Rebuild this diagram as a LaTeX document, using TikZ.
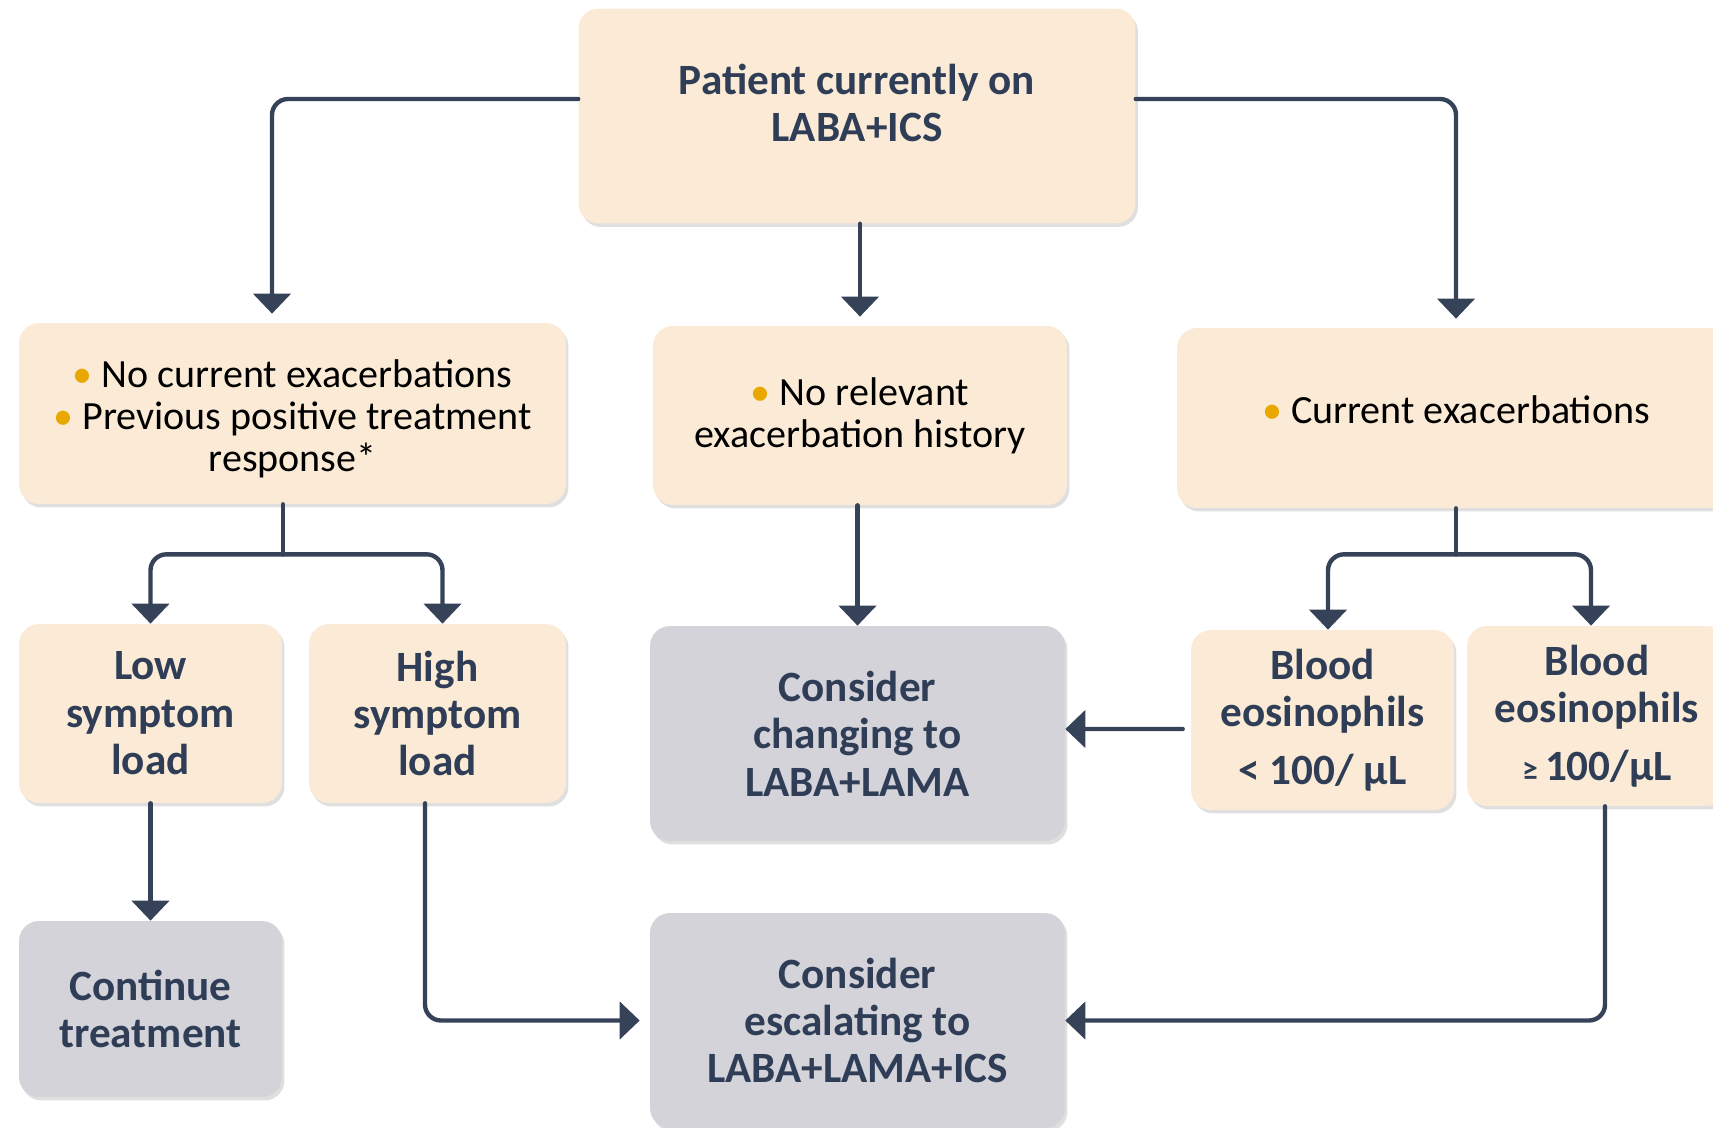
\documentclass[tikz,border=0pt]{standalone}
\usepackage{fontspec}
\setmainfont{Carlito}
\usetikzlibrary{arrows.meta,shadows}
\definecolor{cream}{HTML}{FBEBD6}
\definecolor{greyfill}{HTML}{D3D3D9}
\definecolor{navy}{HTML}{2F3E56}
\definecolor{linecol}{HTML}{364257}
\definecolor{bulletcol}{HTML}{E9A800}
\newcommand{\bul}{{\color{bulletcol}\textbullet}\ }

\begin{document}
\begin{tikzpicture}[x=0.02cm,y=-0.02cm,line cap=round,line join=round,
    card/.style={rounded corners=0.4cm,align=center,inner sep=0pt,
        drop shadow={shadow xshift=0.05cm,shadow yshift=-0.07cm,opacity=0.25}},
    cream card/.style={card,fill=cream},
    grey card/.style={card,fill=greyfill},
    bold/.style={align=center,text=navy,font=\fontsize{24.6}{27}\selectfont\bfseries},
    plain/.style={align=center,text=black,font=\fontsize{22.8}{24}\selectfont},
    link/.style={draw=linecol,line width=2.5pt,rounded corners=0.32cm},
    conn/.style={link,-{Triangle[width=0.74cm,length=0.4cm]}}]
\useasboundingbox (0,0) rectangle (1713,1128);
\clip (0,0) rectangle (1713,1128);

\node[cream card,minimum width=11.14cm,minimum height=4.3cm] (top) at (857,116) {};
\node[bold] (toptxt) at (857,103) {Patient currently on\\LABA+ICS};

\node[cream card,minimum width=10.94cm,minimum height=3.62cm] (exh) at (292.5,413.5) {};
\node[plain] (exhtxt) at (292.5,419)
    {\bul No current exacerbations\\\bul Previous positive treatment\\response*};
\node[cream card,plain,minimum width=8.28cm,minimum height=3.58cm] (hist) at (860,415.5)
    {\bul No relevant\\exacerbation history};
\node[cream card,minimum width=11.16cm,minimum height=3.6cm] (cur) at (1456,418) {};
\node[plain] (curtxt) at (1456,410) {\bul Current exacerbations};

\node[cream card,bold,minimum width=5.26cm,minimum height=3.58cm] (low) at (150.5,713.5) {Low\\symptom\\load};
\node[cream card,bold,minimum width=5.14cm,minimum height=3.58cm] (high) at (437.5,713.5) {High\\symptom\\load};
\node[grey card,bold,minimum width=8.3cm,minimum height=4.3cm] (change) at (857.5,733.5) {Consider\\changing to\\LABA+LAMA};
\node[cream card,bold,minimum width=5.26cm,minimum height=3.6cm] (eoslo) at (1322.5,720) {Blood\\eosinophils\\[6pt]< 100/ µL};
\node[cream card,bold,minimum width=5.2cm,minimum height=3.6cm] (eoshi) at (1597,716) {Blood\\eosinophils\\[6pt]{\fontsize{18}{20}\selectfont ≥}\,100/µL};

\node[grey card,bold,minimum width=5.26cm,minimum height=3.52cm] (cont) at (150.5,1009) {Continue\\treatment};
\node[grey card,bold,minimum width=8.3cm,minimum height=4.3cm] (esc) at (857.5,1020.5) {Consider\\escalating to\\LABA+LAMA+ICS};

\draw[conn,shorten >=0.18cm] ([yshift=0.34cm]top.west) -| ([xshift=-0.41cm]exh.north);
\draw[conn,shorten >=0.18cm] (top.south -| hist.north) -- (hist.north);
\draw[conn,shorten >=0.18cm] ([yshift=0.34cm]top.east) -| (cur.north);

\coordinate (lsplit) at ([xshift=-0.19cm,yshift=-1cm]exh.south);
\draw[link] ([xshift=-0.19cm]exh.south) -- (lsplit);
\draw[conn] (lsplit) -| (low.north);
\draw[conn] (lsplit) -| ([xshift=0.1cm]high.north);

\draw[conn] (hist.south -| change.north) -- (change.north);

\coordinate (rsplit) at ([yshift=-0.92cm]cur.south);
\draw[link] (cur.south) -- (rsplit);
\draw[conn] (rsplit) -| ([xshift=0.11cm]eoslo.north);
\draw[conn] (rsplit) -| ([xshift=-0.12cm]eoshi.north);

\draw[conn,shorten <=0.16cm] ([yshift=-0.18cm]eoslo.west) -- ([yshift=0.09cm]change.east);
\draw[conn] (low.south) -- (cont.north);
\draw[conn,shorten >=0.2cm] ([xshift=-0.25cm]high.south) |- (esc.west);
\draw[conn] ([xshift=0.16cm]eoshi.south) |- (esc.east);
\end{tikzpicture}
\end{document}
